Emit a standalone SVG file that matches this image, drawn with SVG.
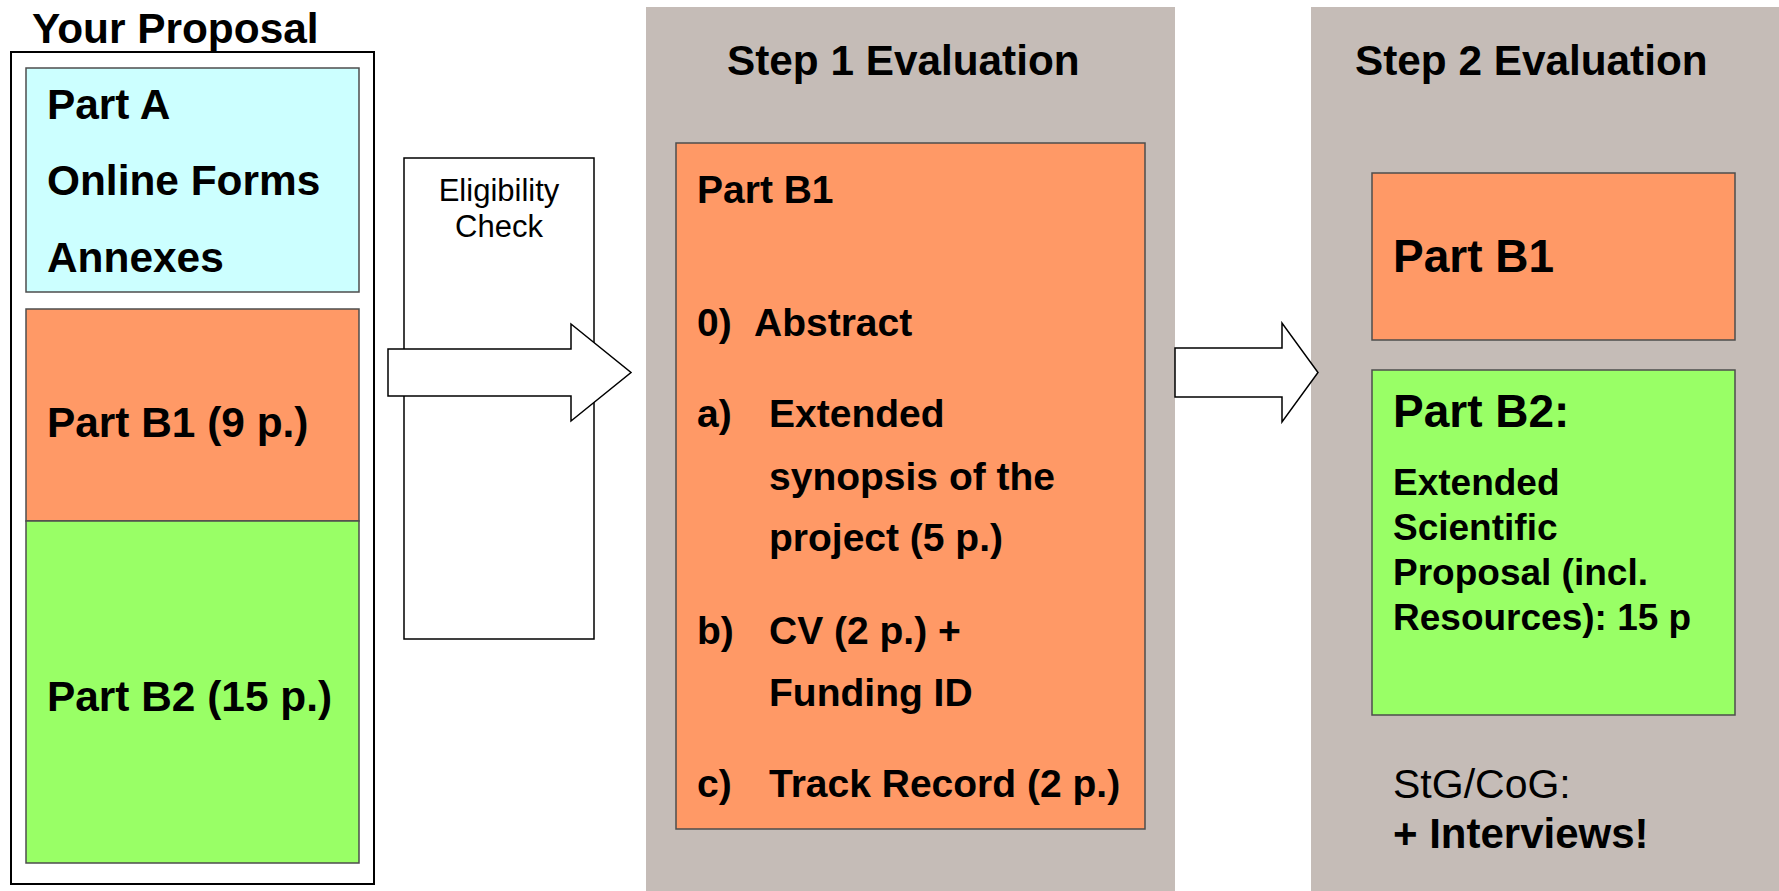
<svg xmlns="http://www.w3.org/2000/svg" width="1779" height="891" viewBox="0 0 1779 891">
  <style>
    text { font-family: "Liberation Sans", Arial, Helvetica, sans-serif; fill: #000; }
    .b { font-weight: bold; }
    .panel { fill: #C5BCB7; stroke: none; }
    .box { stroke: #4d4d4d; stroke-width: 1.5; }
    .cyan { fill: #CCFFFF; }
    .orange { fill: #FF9966; }
    .green { fill: #99FF66; }
    .frame { fill: #fff; stroke: #000; stroke-width: 2; }
    .check { fill: #fff; stroke: #000; stroke-width: 1.5; }
    .arrow { fill: #fff; stroke: #000; stroke-width: 1.5; stroke-linejoin: miter; }
    .lg { font-size: 42.4px; }
    .md { font-size: 39px; }
  </style>

  <rect width="1779" height="891" fill="#fff"/>

  <!-- Left column: the applicant's proposal -->
  <g id="proposal">
    <text class="b lg" x="32" y="43">Your Proposal</text>
    <rect class="frame" x="11" y="52" width="363" height="832"/>
  </g>
  <g id="part-a">
    <rect class="box cyan" x="26" y="68" width="333" height="224"/>
    <text class="b lg" x="47" y="119">Part A</text>
    <text class="b lg" x="47" y="195">Online Forms</text>
    <text class="b lg" x="47" y="272">Annexes</text>
  </g>
  <g id="part-b1">
    <rect class="box orange" x="26" y="309" width="333" height="212"/>
    <text class="b lg" x="47" y="437">Part B1 (9 p.)</text>
  </g>
  <g id="part-b2">
    <rect class="box green" x="26" y="521" width="333" height="342"/>
    <text class="b lg" x="47" y="711">Part B2 (15 p.)</text>
  </g>

  <!-- Eligibility check gate -->
  <g id="eligibility">
    <rect class="check" x="404" y="158" width="190" height="481"/>
    <text x="499" y="201" font-size="31" text-anchor="middle">Eligibility</text>
    <text x="499" y="237" font-size="31" text-anchor="middle">Check</text>
  </g>

  <!-- Step 1 evaluation panel -->
  <g id="step1">
    <rect class="panel" x="646" y="7" width="529" height="884"/>
    <text class="b" x="727" y="75" font-size="42.3">Step 1 Evaluation</text>
  </g>
  <g id="step1-b1">
    <rect class="box orange" x="676" y="143" width="469" height="686"/>
    <text class="b md" x="697" y="203">Part B1</text>
    <text class="b md" x="697" y="336">0)</text>
    <text class="b md" x="754" y="336">Abstract</text>
    <text class="b md" x="697" y="427">a)</text>
    <text class="b md" x="769" y="427">Extended</text>
    <text class="b md" x="769" y="490">synopsis of the</text>
    <text class="b md" x="769" y="551">project (5 p.)</text>
    <text class="b md" x="697" y="644">b)</text>
    <text class="b md" x="769" y="644">CV (2 p.) +</text>
    <text class="b md" x="769" y="706">Funding ID</text>
    <text class="b md" x="697" y="797">c)</text>
    <text class="b md" x="769" y="797">Track Record (2 p.)</text>
  </g>

  <!-- Step 2 evaluation panel -->
  <g id="step2">
    <rect class="panel" x="1311" y="7" width="468" height="884"/>
    <text class="b" x="1355" y="75" font-size="42.3">Step 2 Evaluation</text>
  </g>
  <g id="step2-b1">
    <rect class="box orange" x="1372" y="173" width="363" height="167"/>
    <text class="b" x="1393" y="272" font-size="46">Part B1</text>
  </g>
  <g id="step2-b2">
    <rect class="box green" x="1372" y="370" width="363" height="345"/>
    <text class="b" x="1393" y="427" font-size="46">Part B2:</text>
    <text class="b" x="1393" y="495" font-size="37">Extended</text>
    <text class="b" x="1393" y="540" font-size="37">Scientific</text>
    <text class="b" x="1393" y="585" font-size="37">Proposal (incl.</text>
    <text class="b" x="1393" y="630" font-size="37">Resources): 15 p</text>
  </g>
  <g id="interviews">
    <text x="1393" y="798" font-size="41">StG/CoG:</text>
    <text class="b" x="1393" y="848" font-size="42">+ Interviews!</text>
  </g>

  <!-- Block arrows between the stages -->
  <g id="connectors">
    <path class="arrow" d="M388 349 H571 V324 L631 372.5 L571 421 V396 H388 Z"/>
    <path class="arrow" d="M1175 348 H1282 V323 L1318 372.5 L1282 422 V397 H1175 Z"/>
  </g>
</svg>
